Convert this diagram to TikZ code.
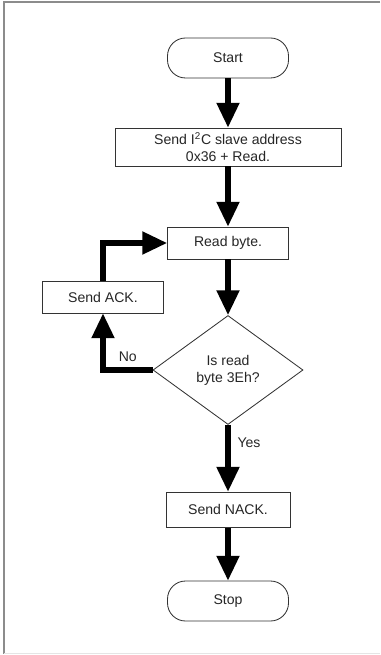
\documentclass[tikz,border=0pt]{standalone}
\usepackage{fontspec}
\setmainfont{Liberation Sans}
\usetikzlibrary{arrows.meta,shapes.geometric}

\tikzset{
    procbox/.style={draw=black!80, line width=0.6pt, fill=white, rectangle, inner sep=0pt, minimum height=0.8cm, minimum width=3.025cm, align=center, text=black!85},
    termbox/.style={procbox, rounded corners=0.45cm, minimum height=1cm},
    decbox/.style={draw=black!80, line width=0.6pt, diamond, inner sep=0pt, minimum width=3.75cm, minimum height=2.725cm, align=center, text=black!85},
    flowarrow/.style={draw=black, line width=3.6pt, -{Triangle[length=0.62cm, width=0.55cm]}},
    lbl/.style={text=black!85, inner sep=2pt}
}

\begin{document}
\begin{tikzpicture}
    \useasboundingbox (0,0) rectangle (9.5,-16.375);
    \draw[black!45, line width=1.4pt] (9.5,-0.06) -- (0.1,-0.06) -- (0.1,-16.35);
    \draw[black!10, line width=0.5pt] (0.1,-16.33) -- (9.5,-16.33);

    \node[termbox] (start) at (5.7,-1.45) {Start};
    \node[procbox, minimum width=5.65cm, minimum height=0.95cm] (addr) at (5.7,-3.675) {Send I\textsuperscript{2}C slave address\\0x36 + Read.};
    \node[procbox] (read) at (5.7,-6.075) {Read byte.};
    \node[procbox] (ack) at (2.575,-7.425) {Send ACK.};
    \node[decbox] (check) at (5.7,-9.25) {Is read\\byte 3Eh?};
    \node[procbox, minimum width=3.1cm, minimum height=0.875cm] (nack) at (5.7,-12.74) {Send NACK.};
    \node[termbox] (stop) at (5.7,-15.025) {Stop};

    \draw[flowarrow] (start) -- (addr);
    \draw[flowarrow] (addr) -- (read);
    \draw[flowarrow] (read) -- (check);
    \draw[flowarrow] (check) -- (nack) node[lbl, pos=0.27, right=3pt]{Yes};
    \draw[flowarrow] (check.west) -| (ack.south) node[lbl, pos=0.25, above=2pt]{No};
    \draw[flowarrow] (ack.north) |- (read.west);
    \draw[flowarrow] (nack) -- (stop);
\end{tikzpicture}
\end{document}
